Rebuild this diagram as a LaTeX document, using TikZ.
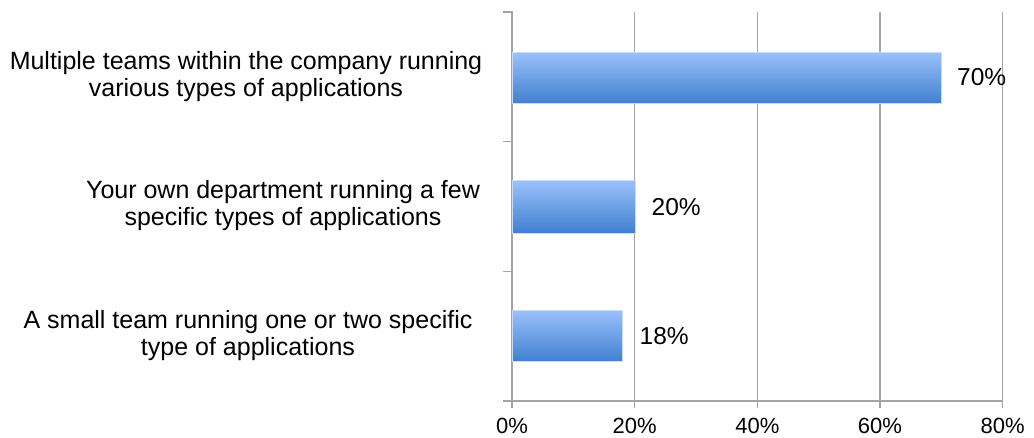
\documentclass[tikz,border=0pt]{standalone}
\usepackage{fontspec}
\setmainfont{Liberation Sans}
\definecolor{bartop}{RGB}{155,193,251}
\definecolor{barbot}{RGB}{64,128,208}
\definecolor{baredge}{RGB}{200,220,250}
\definecolor{gridgray}{RGB}{165,165,165}

\begin{document}
\begin{tikzpicture}[x = 1pt, y = -1pt]
\useasboundingbox (0,0) rectangle (1034,437);
\begin{scope}
\draw[gridgray, line width = 1.5] (634.7,12) -- (634.7,408);
\draw[gridgray, line width = 1.5] (757.3,12) -- (757.3,408);
\draw[gridgray, line width = 1.5] (880,12) -- (880,408);
\draw[gridgray, line width = 1.5] (1002.7,12) -- (1002.7,408);
\draw[gridgray, line width = 1.5] (503,12) -- (512,12) -- (512,408);
\draw[gridgray, line width = 1.5] (503,141.7) -- (512,141.7);
\draw[gridgray, line width = 1.5] (503,271.3) -- (512,271.3);
\draw[gridgray, line width = 1.5] (503,401) -- (1002.7,401);
\shade[top color = bartop, bottom color = barbot, draw = baredge, thin] (512,52) rectangle (941.3,103.5);
\shade[top color = bartop, bottom color = barbot, draw = baredge, thin] (512,180) rectangle (634.7,233);
\shade[top color = bartop, bottom color = barbot, draw = baredge, thin] (512,310) rectangle (622.4,361.5);
\node (val1) [anchor = west, inner sep = 0, font = \fontsize{24.5}{28}\selectfont] at (957,77) {70\%};
\node (val2) [anchor = west, inner sep = 0, font = \fontsize{24.5}{28}\selectfont] at (651.5,207) {20\%};
\node (val3) [anchor = west, inner sep = 0, font = \fontsize{24.5}{28}\selectfont] at (639.5,336) {18\%};
\node (cat1) [align = center, font = \fontsize{25}{27}\selectfont] at (246,77) {Multiple teams within the company running\\various types of applications};
\node (cat2) [align = center, font = \fontsize{25}{27}\selectfont] at (283,206) {Your own department running a few\\specific types of applications};
\node (cat3) [align = center, font = \fontsize{25}{27}\selectfont] at (248,336) {A small team running one or two specific\\type of applications};
\node (tick0) [inner sep = 0, font = \fontsize{22}{26}\selectfont] at (512,426) {0\%};
\node (tick20) [inner sep = 0, font = \fontsize{22}{26}\selectfont] at (634.7,426) {20\%};
\node (tick40) [inner sep = 0, font = \fontsize{22}{26}\selectfont] at (757.3,426) {40\%};
\node (tick60) [inner sep = 0, font = \fontsize{22}{26}\selectfont] at (880,426) {60\%};
\node (tick80) [inner sep = 0, font = \fontsize{22}{26}\selectfont] at (1002.7,426) {80\%};
\end{scope}
\end{tikzpicture}
\end{document}
